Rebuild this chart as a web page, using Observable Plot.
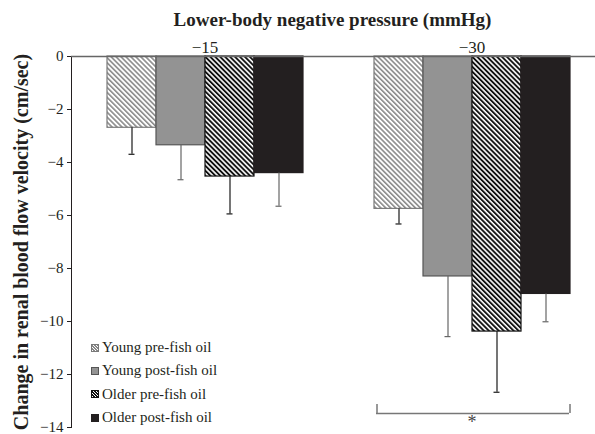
<!DOCTYPE html>
<html><head><meta charset="utf-8">
<script src="https://cdn.jsdelivr.net/npm/d3@7"></script>
<script src="https://cdn.jsdelivr.net/npm/@observablehq/plot@0.6"></script>
<style>
body{margin:0;background:#fff;font-family:"Liberation Serif","Times New Roman",serif;color:#231f20;}
#wrap{position:relative;width:595px;height:434px;overflow:hidden;}
#title{height:32px;box-sizing:border-box;padding:10px 0 0 70px;text-align:center;font-weight:bold;font-size:19px;line-height:19px;white-space:nowrap;}
#legend{position:absolute;left:91px;top:336px;font-size:15px;}
.row{height:23.3px;display:flex;align-items:center;white-space:nowrap;}
.sw{width:6px;height:6px;border:1px solid;margin-right:3px;flex:none;}
svg [aria-label="y-axis label"] text{font-weight:bold;font-size:20px;}
svg [aria-label="fx-axis tick label"] text{font-size:17px;}
</style></head><body>
<div id="wrap">
<div id="title">Lower-body negative pressure (mmHg)</div>
<div id="chart"></div>
<div id="legend"></div>
</div>
<script>
// ---- data ----
const groups = ["\u221215", "\u221230"];
const series = ["Young pre-fish oil", "Young post-fish oil", "Older pre-fish oil", "Older post-fish oil"];
const means15 = [-2.69, -3.35, -4.53, -4.40];
const errs15  = [1.00, 1.30, 1.41, 1.25];
const means30 = [-5.75, -8.30, -10.38, -8.96];
const errs30  = [0.57, 2.27, 2.29, 1.05];
const yTicks = [0, -2, -4, -6, -8, -10, -12, -14];
const sigGroup = "\u221230";
const sigLabel = "*";
const sigLevel = -13.47;
const sigTip = -13.13;

// ---- styles ----
const fills = ["url(#pYoungPre)", "#939393", "url(#pOlderPre)", "#231f20"];
const strokes = ["#7a7a7a", "#555555", "#111111", "#231f20"];
const errStrokes = ["#1a1a1a", "#666666", "#1a1a1a", "#666666"];
const swatchBg = [
  "repeating-linear-gradient(45deg,#fff 0 1px,#888 1px 2.2px)",
  "#939393",
  "repeating-linear-gradient(45deg,#fff 0 1px,#111 1px 2.2px)",
  "#231f20"
];

const means = [means15, means30];
const errs = [errs15, errs30];
const data = groups.flatMap((g, gi) => series.map((s, si) => ({
  group: g, series: s, si, value: means[gi][si], err: errs[gi][si]
})));
const sig = [{group: sigGroup, label: sigLabel, level: sigLevel, tip: sigTip, from: series[0], to: series[series.length - 1]}];

const chart = Plot.plot({
  width: 595, height: 402,
  marginTop: 24, marginBottom: 7, marginLeft: 70, marginRight: 0,
  style: {fontFamily: "'Liberation Serif','Times New Roman',serif", fontSize: "15px", color: "#231f20", background: "transparent", overflow: "visible"},
  fx: {domain: groups, range: [71, 605], paddingInner: 0, paddingOuter: 0, axis: "top", tickSize: 0, tickPadding: 4, label: null},
  x: {domain: series, paddingInner: 0, paddingOuter: 0.724, axis: null},
  y: {domain: [-14, 0], ticks: yTicks, tickSize: 4, tickPadding: 4,
      label: "Change in renal blood flow velocity (cm/sec)", labelAnchor: "center", labelOffset: 58, labelArrow: false, line: true},
  marks: [
    Plot.barY(data, {fx: "group", x: "series", y: "value", fill: d => fills[d.si], stroke: d => strokes[d.si], strokeWidth: 1.2}),
    Plot.ruleX(data, {fx: "group", x: "series", y1: "value", y2: d => d.value - d.err, stroke: d => errStrokes[d.si], strokeWidth: 1.2}),
    Plot.tickY(data, {fx: "group", x: "series", y: d => d.value - d.err, insetLeft: 21.5, insetRight: 21.5, stroke: d => errStrokes[d.si], strokeWidth: 1.2}),
    Plot.ruleY([0], {stroke: "#666", strokeWidth: 1.5}),
    Plot.ruleY(sig, {fx: "group", y: "level", insetLeft: 38, insetRight: 36, stroke: "#777", strokeWidth: 1.5}),
    Plot.ruleX(sig, {fx: "group", x: "from", y1: "level", y2: "tip", dx: -22, stroke: "#777", strokeWidth: 1.5}),
    Plot.ruleX(sig, {fx: "group", x: "to", y1: "level", y2: "tip", dx: 24, stroke: "#777", strokeWidth: 1.5}),
    Plot.text(sig, {fx: "group", text: "label", y: -13.8, fontSize: 18, fill: "#444"})
  ]
});

// patterns
const svg = d3.select(chart);
const defs = svg.insert("defs", ":first-child");
function stripes(id, color, w) {
  const p = defs.append("pattern").attr("id", id).attr("patternUnits", "userSpaceOnUse")
    .attr("width", 3.5).attr("height", 3.5).attr("patternTransform", "rotate(-45)");
  p.append("rect").attr("width", 3.5).attr("height", 3.5).attr("fill", "#fff");
  p.append("rect").attr("width", w).attr("height", 3.5).attr("fill", color);
}
stripes("pYoungPre", "#8a8a8a", 1.6);
stripes("pOlderPre", "#111", 1.9);

document.getElementById("chart").appendChild(chart);

// legend
const lg = d3.select("#legend");
series.forEach((s, i) => {
  const r = lg.append("div").attr("class", "row");
  r.append("div").attr("class", "sw").style("background", swatchBg[i]).style("border-color", strokes[i]);
  r.append("span").text(s);
});
</script>
</body></html>
